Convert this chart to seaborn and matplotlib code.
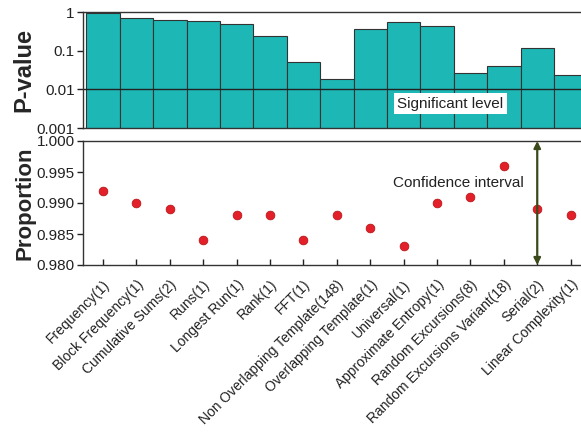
import matplotlib
matplotlib.use("Agg")
import matplotlib.pyplot as plt
import seaborn as sns
import pandas as pd
import numpy as np

sns.set_theme(style="white")
plt.rcParams['font.family'] = ['Liberation Sans', 'DejaVu Sans']

tests = ["Frequency(1)", "Block Frequency(1)", "Cumulative Sums(2)", "Runs(1)",
         "Longest Run(1)", "Rank(1)", "FFT(1)", "Non Overlapping Template(148)",
         "Overlapping Template(1)", "Universal(1)", "Approximate Entropy(1)",
         "Random Excursions(8)", "Random Excursions Variant(18)", "Serial(2)",
         "Linear Complexity(1)"]
p_values = [0.95, 0.69, 0.63, 0.57, 0.48, 0.24, 0.051, 0.018, 0.36, 0.56,
            0.44, 0.027, 0.039, 0.114, 0.023]
proportions = [0.992, 0.990, 0.989, 0.984, 0.988, 0.988, 0.984, 0.988, 0.986,
               0.983, 0.990, 0.991, 0.996, 0.989, 0.988]
significance = 0.01
ci_low, ci_high = 0.980, 1.000

df = pd.DataFrame({"test": tests, "p": p_values, "prop": proportions})
df["idx"] = np.arange(len(tests))

W, H = 581, 434
fig = plt.figure(figsize=(W / 100, H / 100), dpi=100)

left = 83 / W
xmin, xmax = -0.6, 14.6
width = (xmax - xmin) * 33.4 / W

ax1 = fig.add_axes([left, 1 - 128 / H, width, (128 - 12) / H])
ax2 = fig.add_axes([left, 1 - 265 / H, width, (265 - 141) / H])

# P-value bars on a log axis
sns.barplot(data=df, x="idx", y="p", ax=ax1, color="#1db8b5", width=1.0,
            edgecolor="#333333", linewidth=0.8, saturation=1)
ax1.set_yscale("log", nonpositive="clip")
ax1.set_ylim(0.001, 1)
ax1.set_xlim(xmin, xmax)
ax1.set_yticks([0.001, 0.01, 0.1, 1])
ax1.set_yticklabels(["0.001", "0.01", "0.1", "1"])
ax1.minorticks_off()
ax1.axhline(significance, color="#222222", lw=1.0)
ax1.text(10.4, 0.0042, "Significant level", ha="center", va="center", fontsize=11,
         color="#222222", bbox=dict(facecolor="white", edgecolor="none", pad=2.5))
ax1.set_xticks(df["idx"])
ax1.set_xticklabels([])
ax1.set_xlabel("")
ax1.set_ylabel("P-value", fontsize=17, fontweight="bold", labelpad=1)

# Proportion of passing sequences
sns.scatterplot(data=df, x="idx", y="prop", ax=ax2, color="#e3202a", s=40,
                edgecolor="#b01010", linewidth=0.5, zorder=3)
ax2.set_xlim(xmin, xmax)
ax2.set_ylim(0.980, 1.000)
ax2.set_yticks([0.980, 0.985, 0.990, 0.995, 1.000])
ax2.set_yticklabels(["0.980", "0.985", "0.990", "0.995", "1.000"])
ax2.annotate("", xy=(13, ci_high), xytext=(13, ci_low),
             arrowprops=dict(arrowstyle="<|-|>", color="#3b4a1a", lw=1.6,
                             mutation_scale=10, shrinkA=0, shrinkB=0))
ax2.text(10.65, 0.9933, "Confidence interval", ha="center", va="center",
         fontsize=11, color="#222222")
ax2.set_xticks(df["idx"])
ax2.set_xticklabels(tests, rotation=45, ha="right", rotation_mode="anchor",
                    fontsize=10, color="#222222")
ax2.set_xlabel("")
ax2.set_ylabel("Proportion", fontsize=16, fontweight="bold", labelpad=1)

for ax in (ax1, ax2):
    for s in ax.spines.values():
        s.set_color("#333333")
        s.set_linewidth(1.0)
    ax.tick_params(axis="x", direction="in", length=4, width=1, color="#222222",
                   bottom=True, pad=9)
    ax.tick_params(axis="y", direction="out", length=4, width=1, color="#222222",
                   left=True, labelsize=11, labelcolor="#222222", pad=2)

fig.savefig("out.png", dpi=100)
